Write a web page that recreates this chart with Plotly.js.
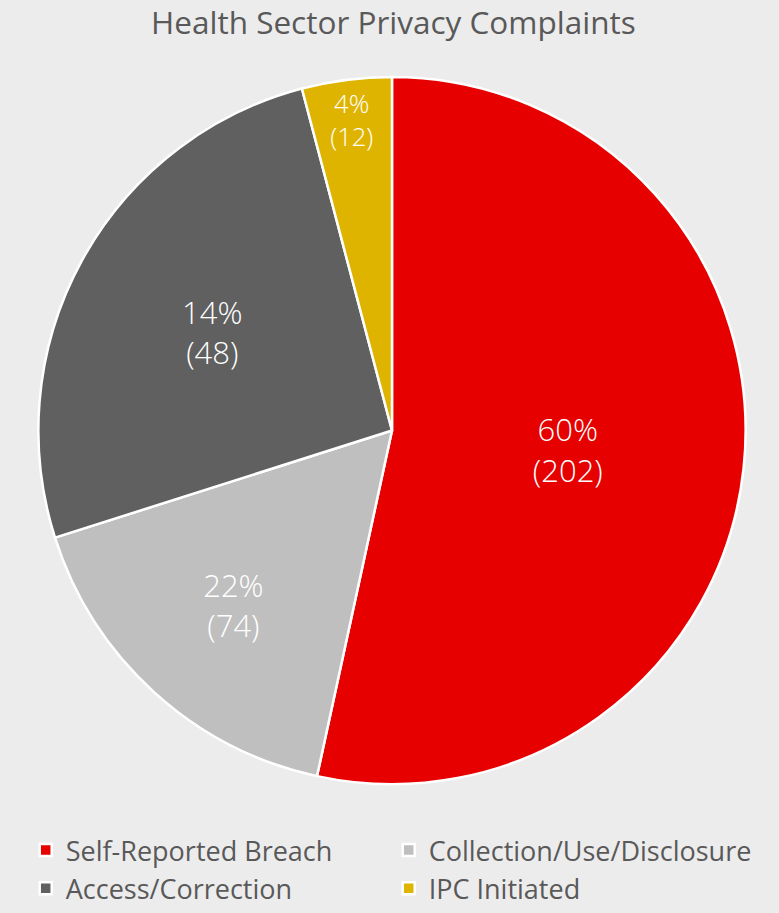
<!DOCTYPE html>
<html>
<head>
<meta charset="utf-8">
<script src="https://cdn.plot.ly/plotly-3.0.1.min.js"></script>
<style>html,body{margin:0;padding:0;background:#ececec;}#chart{width:779px;height:913px;}</style>
</head>
<body>
<div id="chart"></div>
<script>
// Categories (clockwise from 12 o'clock)
const categories = ['Self-Reported Breach', 'Collection/Use/Disclosure', 'Access/Correction', 'IPC Initiated'];
// Slice sizes as drawn in the picture (share of the circle, %)
const sliceShares = [53.4, 16.7, 25.8, 4.1];
// Printed data labels
const percentLabels = ['60%', '22%', '14%', '4%'];
const complaintCounts = [202, 74, 48, 12];
const colors = ['#e60000', '#bfbfbf', '#606060', '#dfb400'];

const labelText = percentLabels.map((p, i) => p + '<br>(' + complaintCounts[i] + ')');
const FONT = '"Open Sans", "DejaVu Sans", sans-serif';

const trace = {
  type: 'pie',
  labels: categories,
  values: sliceShares,
  text: labelText,
  textinfo: 'text',
  textposition: 'inside',
  insidetextorientation: 'horizontal',
  sort: false,
  direction: 'clockwise',
  rotation: 0,
  marker: { colors: colors, line: { color: '#ffffff', width: 2.5 } },
  insidetextfont: { family: FONT, size: 31, color: '#ffffff', weight: 300 },
  hoverinfo: 'label+value',
  domain: { x: [0.0488, 0.9576], y: [0.1402, 0.9157] }
};

const layout = {
  width: 779,
  height: 913,
  paper_bgcolor: '#ececec',
  plot_bgcolor: '#ececec',
  margin: { l: 0, r: 0, t: 0, b: 0 },
  title: {
    text: 'Health Sector Privacy Complaints',
    font: { family: FONT, size: 31.5, color: '#595959', weight: 400 },
    x: 0.505, xanchor: 'center',
    y: 0.975, yanchor: 'middle', yref: 'container'
  },
  showlegend: true,
  legend: {
    orientation: 'h',
    x: 0.033, xanchor: 'left',
    y: 0.094, yanchor: 'top',
    font: { family: FONT, size: 27, color: '#595959', weight: 400 },
    entrywidth: 318,
    entrywidthmode: 'pixels',
    itemwidth: 30,
    bgcolor: 'rgba(0,0,0,0)'
  }
};

Plotly.newPlot('chart', [trace], layout, { displayModeBar: false, staticPlot: true });
</script>
</body>
</html>
